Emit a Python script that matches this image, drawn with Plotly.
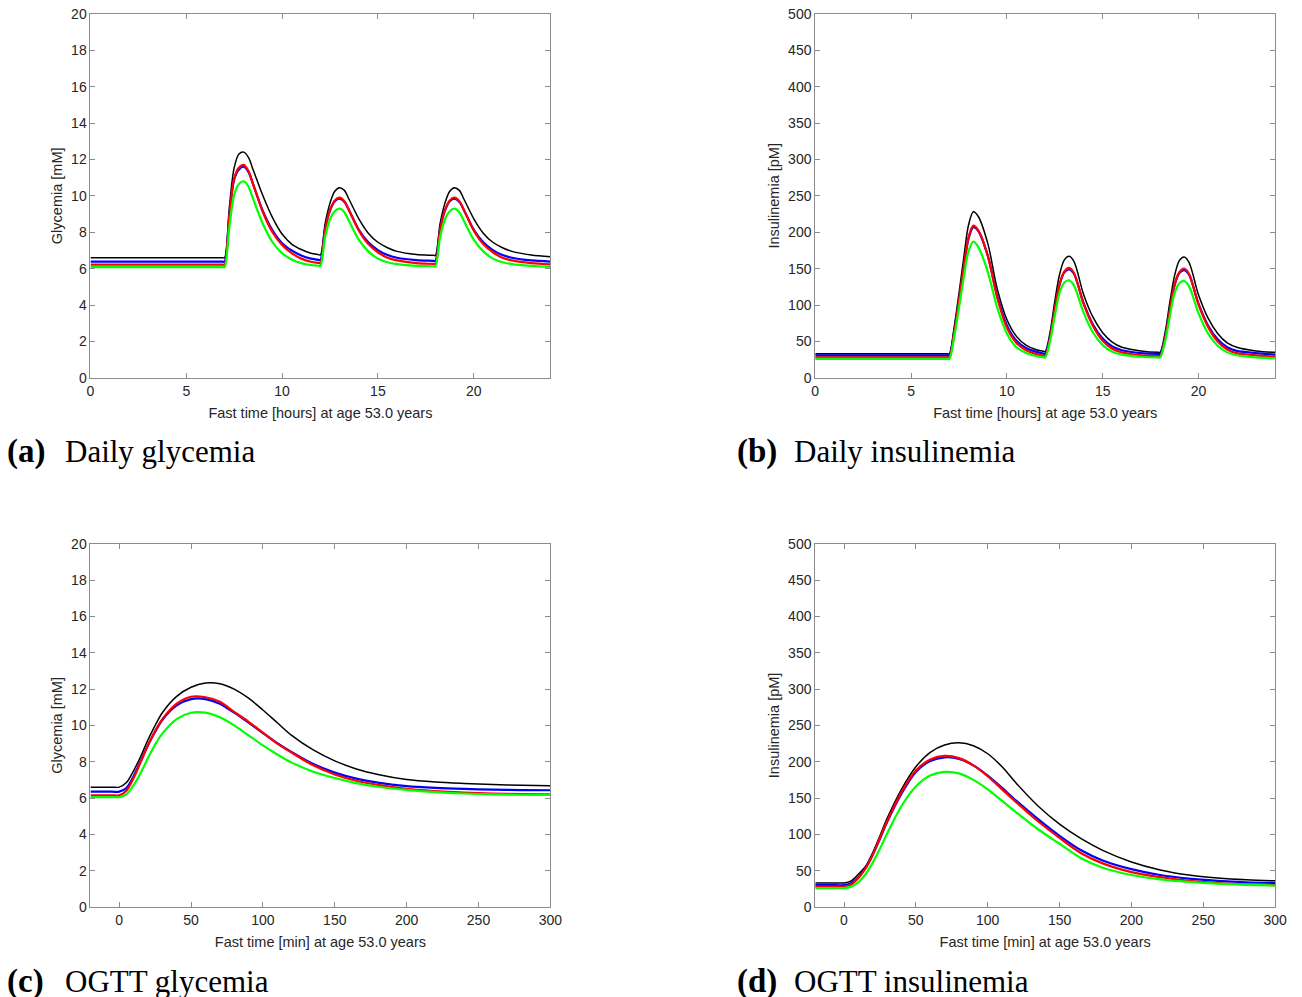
import plotly.graph_objects as go

# ---------------------------------------------------------------------------
# Daily simulation: time knots in hours (meals at 7, 12 and 18 h)
HOURS = [0, 6.9, 7.0, 7.25, 7.5, 7.75, 8.0, 8.25, 8.5, 9.0, 9.5, 10.0, 10.5, 11.0,
         11.5, 11.9, 12.0, 12.25, 12.5, 12.75, 13.0, 13.25, 13.5, 14.0, 14.5, 15.0,
         15.5, 16.0, 17.0, 17.9, 18.0, 18.25, 18.5, 18.75, 19.0, 19.25, 19.5, 20.0,
         20.5, 21.0, 21.5, 22.0, 23.0, 24.0]

# Daily glycemia [mM]
GLY_DAY_BLACK = [6.6, 6.6, 6.6, 9.4, 11.55, 12.3, 12.4, 12.1, 11.4, 10.0, 8.8, 7.9, 7.35,
                 7.05, 6.85, 6.77, 6.75, 8.5, 9.6, 10.25, 10.45, 10.3, 9.8, 8.75, 7.95,
                 7.45, 7.15, 6.95, 6.78, 6.73, 6.72, 8.5, 9.6, 10.25, 10.45, 10.3, 9.8,
                 8.75, 7.95, 7.45, 7.15, 6.95, 6.75, 6.65]
GLY_DAY_BLUE = [6.38, 6.38, 6.38, 8.95, 10.9, 11.45, 11.6, 11.3, 10.6, 9.15, 8.1, 7.4, 7.0,
                6.72, 6.55, 6.48, 6.47, 8.2, 9.2, 9.7, 9.85, 9.67, 9.2, 8.15, 7.45, 7.02,
                6.75, 6.6, 6.47, 6.43, 6.42, 8.2, 9.2, 9.7, 9.85, 9.67, 9.2, 8.15, 7.45,
                7.02, 6.75, 6.6, 6.45, 6.39]
GLY_DAY_RED = [6.22, 6.22, 6.22, 8.9, 10.95, 11.55, 11.7, 11.35, 10.6, 9.1, 8.0, 7.3, 6.85,
               6.55, 6.38, 6.32, 6.3, 8.15, 9.2, 9.75, 9.9, 9.7, 9.2, 8.1, 7.35, 6.9, 6.6,
               6.45, 6.3, 6.26, 6.25, 8.15, 9.2, 9.75, 9.9, 9.7, 9.2, 8.1, 7.35, 6.9, 6.6,
               6.45, 6.3, 6.23]
GLY_DAY_GREEN = [6.08, 6.08, 6.08, 8.3, 10.05, 10.65, 10.8, 10.5, 9.8, 8.45, 7.45, 6.85, 6.5,
                 6.3, 6.2, 6.16, 6.15, 7.75, 8.7, 9.15, 9.3, 9.1, 8.6, 7.6, 6.95, 6.55,
                 6.35, 6.25, 6.15, 6.13, 6.12, 7.75, 8.7, 9.15, 9.3, 9.1, 8.6, 7.6, 6.95,
                 6.55, 6.35, 6.25, 6.15, 6.09]

# Daily insulinemia [pM]
INS_DAY_BLACK = [33, 33, 33, 70, 116, 165, 210, 228, 222, 185, 122, 80, 57, 45, 39, 36.5,
                 36, 62, 105, 142, 162, 167, 160, 115, 83, 62, 49, 42, 37, 35, 35, 61, 103,
                 140, 161, 166, 159, 114, 82, 61, 48, 42, 37, 35]
INS_DAY_BLUE = [31, 31, 31, 63, 106, 151, 191, 207, 202, 168, 112, 72, 51, 41, 36, 33.5,
                33, 56, 94, 128, 145, 149, 143, 103, 73, 54, 43, 38, 34, 33, 33, 55, 92,
                127, 144, 148, 142, 102, 72, 53, 42, 37, 34, 32]
INS_DAY_RED = [28, 28, 28, 62, 106, 152, 193, 209, 203, 168, 110, 69, 48, 38, 33, 30.5, 30,
               54, 94, 129, 146, 151, 144, 102, 71, 51, 40, 35, 31, 30, 30, 53, 92, 128,
               145, 150, 143, 101, 70, 50, 39, 34, 31, 29]
INS_DAY_GREEN = [26, 26, 26, 56, 96, 138, 174, 187, 180, 146, 96, 61, 42, 34, 30, 28.5, 28,
                 50, 85, 117, 131, 134, 127, 90, 62, 45, 36, 32, 29, 28, 28, 49, 84, 116,
                 130, 133, 126, 89, 61, 44, 35, 31, 28, 27]

# ---------------------------------------------------------------------------
# OGTT simulation: time knots in minutes (glucose load at t = 0)
MINUTES = [-20, -5, 0, 5, 10, 15, 20, 25, 30, 40, 50, 60, 70, 80, 90, 100, 110, 120,
           135, 150, 165, 180, 200, 220, 240, 260, 280, 300]

# OGTT glycemia [mM]
GLY_OGTT_BLACK = [6.6, 6.6, 6.6, 6.85, 7.5, 8.3, 9.2, 10.0, 10.7, 11.6, 12.1, 12.33, 12.3,
                  12.0, 11.5, 10.85, 10.15, 9.45, 8.65, 8.05, 7.6, 7.3, 7.02, 6.88, 6.8,
                  6.74, 6.7, 6.67]
GLY_OGTT_BLUE = [6.35, 6.35, 6.35, 6.55, 7.2, 8.05, 8.9, 9.65, 10.3, 11.1, 11.45, 11.45,
                 11.2, 10.7, 10.15, 9.58, 9.02, 8.53, 7.87, 7.4, 7.07, 6.85, 6.66, 6.56,
                 6.5, 6.46, 6.44, 6.43]
GLY_OGTT_RED = [6.15, 6.15, 6.15, 6.4, 7.1, 8.0, 8.9, 9.7, 10.35, 11.2, 11.58, 11.55, 11.3,
                10.75, 10.2, 9.6, 9.0, 8.5, 7.8, 7.3, 6.95, 6.72, 6.5, 6.38, 6.3, 6.25,
                6.22, 6.2]
GLY_OGTT_GREEN = [6.05, 6.05, 6.05, 6.2, 6.7, 7.4, 8.2, 8.95, 9.55, 10.35, 10.7, 10.7,
                  10.45, 10.0, 9.45, 8.9, 8.4, 7.95, 7.45, 7.1, 6.82, 6.62, 6.45, 6.33,
                  6.25, 6.2, 6.18, 6.17]

# OGTT insulinemia [pM]
INS_OGTT_BLACK = [33, 33, 33, 36, 45, 56, 75, 98, 122, 162, 193, 213, 223, 226, 222, 211,
                  193, 170, 139, 114, 94, 78, 62, 51, 44, 40, 37.5, 36]
INS_OGTT_BLUE = [30, 30, 30, 33, 41, 54, 72, 94, 117, 156, 186, 201, 206, 204, 195, 181,
                 164, 146, 121, 98, 78, 64, 52, 44, 39, 36, 34, 33]
INS_OGTT_RED = [28, 28, 28, 31, 40, 53, 72, 95, 118, 158, 188, 203, 208, 205, 195, 180,
                162, 144, 118, 95, 74, 60, 48, 41, 36, 33, 31, 30]
INS_OGTT_GREEN = [26, 26, 26, 28, 34, 45, 61, 80, 101, 139, 166, 181, 186, 184, 175, 162,
                  146, 130, 107, 87, 67, 54, 44, 38, 34.5, 32, 30.5, 29.5]

# Tick labels
HOUR_TICKS = [0, 5, 10, 15, 20]
MINUTE_TICKS = [0, 50, 100, 150, 200, 250, 300]

# ---------------------------------------------------------------------------
# Layout positions are written in window pixels and converted to figure
# fractions with the page's scale/offset.
W, H = 1302, 1010
SCALE_X, OFFSET_X = 0.988, 3.5
SCALE_Y, OFFSET_Y = 0.984, 7.2


def px_x(v):
    return (v - OFFSET_X) / SCALE_X / W


def px_y(v):
    return 1 - (v - OFFSET_Y) / SCALE_Y / H


SERIES_STYLE = [("black", 1.5), ("#0000ff", 2.2), ("#ff0000", 2.2), ("#00ff00", 2.2)]

panels = [
    dict(x=HOURS, ys=[GLY_DAY_BLACK, GLY_DAY_BLUE, GLY_DAY_RED, GLY_DAY_GREEN],
         xpx=(90, 550), ypx=(13, 377), xrange=[0, 24], xticks=HOUR_TICKS,
         yrange=[0, 20], dtick=2,
         xtitle="Fast time [hours] at age 53.0 years", ytitle="Glycemia [mM]",
         tag_x=5, text_x=63, cap_y=451, tag="(a)", caption="Daily glycemia"),
    dict(x=HOURS, ys=[INS_DAY_BLACK, INS_DAY_BLUE, INS_DAY_RED, INS_DAY_GREEN],
         xpx=(815, 1275), ypx=(13, 377), xrange=[0, 24], xticks=HOUR_TICKS,
         yrange=[0, 500], dtick=50,
         xtitle="Fast time [hours] at age 53.0 years", ytitle="Insulinemia [pM]",
         tag_x=735, text_x=792, cap_y=451, tag="(b)", caption="Daily insulinemia"),
    dict(x=MINUTES, ys=[GLY_OGTT_BLACK, GLY_OGTT_BLUE, GLY_OGTT_RED, GLY_OGTT_GREEN],
         xpx=(90, 550), ypx=(543, 906), xrange=[-20, 300], xticks=MINUTE_TICKS,
         yrange=[0, 20], dtick=2,
         xtitle="Fast time [min] at age 53.0 years", ytitle="Glycemia [mM]",
         tag_x=5, text_x=63, cap_y=981, tag="(c)", caption="OGTT glycemia"),
    dict(x=MINUTES, ys=[INS_OGTT_BLACK, INS_OGTT_BLUE, INS_OGTT_RED, INS_OGTT_GREEN],
         xpx=(815, 1275), ypx=(543, 906), xrange=[-20, 300], xticks=MINUTE_TICKS,
         yrange=[0, 500], dtick=50,
         xtitle="Fast time [min] at age 53.0 years", ytitle="Insulinemia [pM]",
         tag_x=735, text_x=792, cap_y=981, tag="(d)", caption="OGTT insulinemia"),
]

AXIS_GRAY = "#8c8c8c"
TEXT_GRAY = "#262626"
SANS = "Liberation Sans, Arial, sans-serif"
SERIF = "Liberation Serif, Times New Roman, serif"

fig = go.Figure()
layout = dict(
    width=W, height=H, margin=dict(l=0, r=0, t=0, b=0),
    paper_bgcolor="white", plot_bgcolor="white", showlegend=False,
    annotations=[],
)

for i, p in enumerate(panels, start=1):
    sfx = "" if i == 1 else str(i)
    for ys, (color, width) in zip(p["ys"], SERIES_STYLE):
        fig.add_trace(go.Scatter(
            x=p["x"], y=ys, mode="lines", xaxis="x" + sfx, yaxis="y" + sfx,
            line=dict(color=color, width=width, shape="spline", smoothing=0.9),
            hoverinfo="skip",
        ))
    common = dict(
        showline=True, linecolor=AXIS_GRAY, linewidth=1, mirror="ticks",
        ticks="inside", ticklen=5, tickwidth=1, tickcolor=AXIS_GRAY,
        showgrid=False, zeroline=False,
        tickfont=dict(family=SANS, size=14, color=TEXT_GRAY),
    )
    layout["xaxis" + sfx] = dict(
        common, domain=[px_x(p["xpx"][0]), px_x(p["xpx"][1])], range=p["xrange"],
        tickmode="array", tickvals=p["xticks"], anchor="y" + sfx,
        title=dict(text=p["xtitle"], standoff=10,
                   font=dict(family=SANS, size=14.5, color=TEXT_GRAY)),
    )
    layout["yaxis" + sfx] = dict(
        common, domain=[px_y(p["ypx"][1]), px_y(p["ypx"][0])], range=p["yrange"],
        dtick=p["dtick"], tick0=0, anchor="x" + sfx,
        title=dict(text=p["ytitle"], standoff=5,
                   font=dict(family=SANS, size=14.5, color=TEXT_GRAY)),
    )
    cap_y = px_y(p["cap_y"])
    layout["annotations"].append(dict(
        text="<b>%s</b>" % p["tag"],
        x=px_x(p["tag_x"]), y=cap_y, xref="paper", yref="paper",
        xanchor="left", yanchor="middle", showarrow=False,
        font=dict(family=SERIF, size=33, color="black"),
    ))
    layout["annotations"].append(dict(
        text=p["caption"],
        x=px_x(p["text_x"]), y=cap_y, xref="paper", yref="paper",
        xanchor="left", yanchor="middle", showarrow=False,
        font=dict(family=SERIF, size=31, color="black"),
    ))

fig.update_layout(**layout)
fig.write_html("out.html", config={"displayModeBar": False})
